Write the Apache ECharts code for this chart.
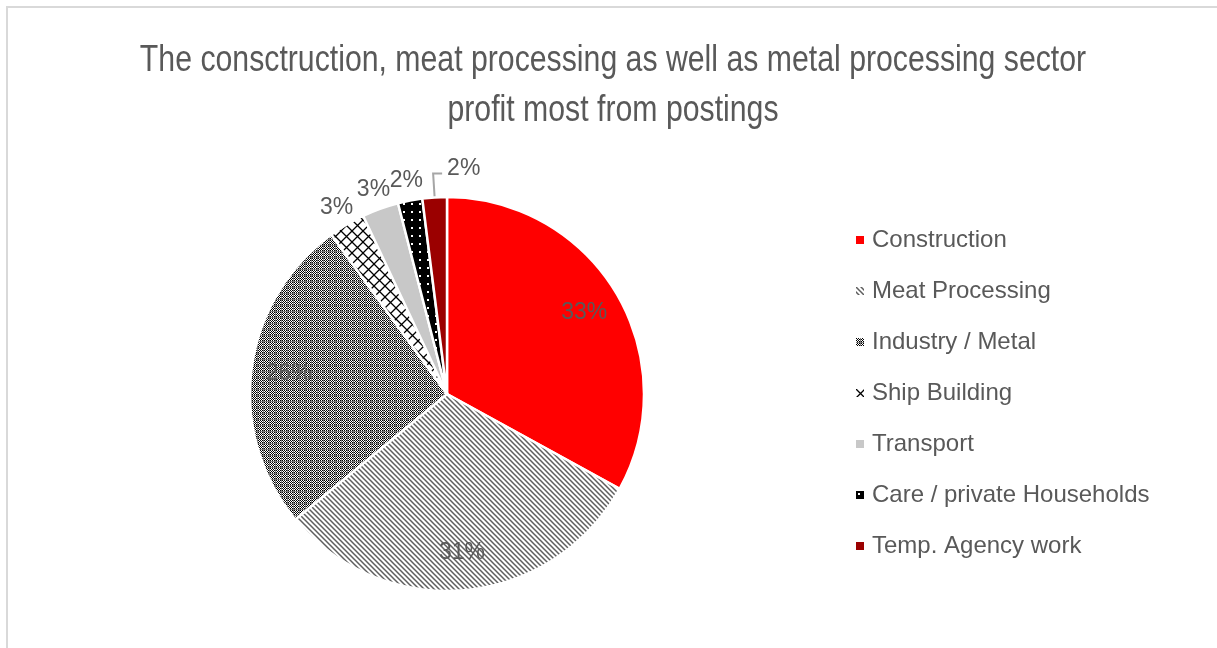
<!DOCTYPE html>
<html>
<head>
<meta charset="utf-8">
<script src="https://cdn.jsdelivr.net/npm/echarts@6/dist/echarts.min.js"></script>
<style>
  html, body { margin: 0; padding: 0; background: #fff; }
  #chart { width: 1217px; height: 648px; }
</style>
</head>
<body>
<div id="chart"></div>
<script>
var sectors = ['Construction', 'Meat Processing', 'Industry / Metal', 'Ship Building',
               'Transport', 'Care / private Households', 'Temp. Agency work'];
var shares = [33, 31, 26, 3, 3, 2, 2];
var titleLines = ['The consctruction, meat processing as well as metal processing sector',
                  'profit most from postings'];

var FONT = 'Liberation Sans, Arial, sans-serif';
var R = 197;

// little canvas tiles for the hatch fills
function tile(w, h, draw) {
    var c = document.createElement('canvas');
    c.width = w; c.height = h;
    draw(c.getContext('2d'));
    return { image: c, repeat: 'repeat' };
}

var stripes = tile(5, 5, function (ctx) {
    ctx.fillStyle = '#fff'; ctx.fillRect(0, 0, 5, 5);
    ctx.strokeStyle = '#5e5e5e'; ctx.lineWidth = 1.5;
    ctx.beginPath();
    ctx.moveTo(0, 0); ctx.lineTo(5, 5);
    ctx.moveTo(-1, 4); ctx.lineTo(1, 6);
    ctx.moveTo(4, -1); ctx.lineTo(6, 1);
    ctx.stroke();
});
var checker = tile(6, 6, function (ctx) {
    ctx.fillStyle = '#fff'; ctx.fillRect(0, 0, 6, 6);
    ctx.fillStyle = '#000';
    for (var x = 0; x < 5; x++) {
        for (var y = 0; y < 5; y++) {
            if ((x + y) % 2 == 0) ctx.fillRect(x, y, 1, 1);
        }
    }
    ctx.fillStyle = '#7a7a7a';
    ctx.fillRect(5, 0, 1, 6); ctx.fillRect(0, 5, 6, 1);
});
var grid = tile(11, 11, function (ctx) {
    ctx.fillStyle = '#fff'; ctx.fillRect(0, 0, 11, 11);
    ctx.strokeStyle = '#000'; ctx.lineWidth = 1.3;
    ctx.beginPath();
    ctx.moveTo(0, 0); ctx.lineTo(11, 11);
    ctx.moveTo(11, 0); ctx.lineTo(0, 11);
    ctx.stroke();
});
var dots = tile(8, 8, function (ctx) {
    ctx.fillStyle = '#000'; ctx.fillRect(0, 0, 8, 8);
    ctx.fillStyle = '#fff'; ctx.fillRect(3, 3, 2, 2);
});

var fills = ['#ff0000', stripes, checker, grid, '#c8c8c8', dots, '#9b0000'];

var pieData = [], innerLabels = [], outerLabels = [];
for (var i = 0; i < sectors.length; i++) {
    var big = shares[i] > 10;
    pieData.push({
        name: sectors[i],
        value: shares[i],
        itemStyle: { color: fills[i] },
        label: { show: i == 6 },
        labelLine: { show: i == 6 }
    });
    innerLabels.push({ name: sectors[i], value: shares[i], label: { show: big } });
    outerLabels.push({ name: sectors[i], value: shares[i], label: { show: !big && i != 6 } });
}

function labelRing(radius, data) {
    return {
        type: 'pie',
        center: [447, 394],
        radius: radius,
        startAngle: 90,
        clockwise: true,
        silent: true,
        legendHoverLink: false,
        avoidLabelOverlap: false,
        itemStyle: { color: 'rgba(0,0,0,0)', borderWidth: 0 },
        label: {
            position: 'inside',
            formatter: '{d}%',
            fontFamily: FONT,
            fontSize: 23,
            color: '#595959'
        },
        labelLine: { show: false },
        labelLayout: { hideOverlap: false },
        emphasis: { disabled: true },
        data: data
    };
}

var option = {
    animation: false,
    backgroundColor: '#fff',
    graphic: [{
        type: 'rect',
        silent: true,
        shape: { x: 7, y: 7, width: 1300, height: 700 },
        style: { fill: 'none', stroke: '#d9d9d9', lineWidth: 2 }
    }, {
        // title squeezed to match the narrow face of the original
        type: 'text',
        silent: true,
        x: 613,
        y: 36,
        scaleX: 0.84,
        style: {
            text: titleLines.join('\n'),
            font: '36px ' + FONT,
            lineHeight: 50,
            align: 'center',
            verticalAlign: 'top',
            fill: '#595959'
        }
    }],
    legend: {
        orient: 'vertical',
        left: 849,
        top: 220,
        itemWidth: 10,
        itemHeight: 10,
        itemGap: 21,
        icon: 'rect',
        data: sectors,
        textStyle: {
            fontFamily: FONT,
            fontSize: 24,
            lineHeight: 30,
            color: '#595959',
            padding: [0, 0, 0, 2]
        }
    },
    series: [
        {
            type: 'pie',
            center: [447, 394],
            radius: [0, R],
            startAngle: 90,
            clockwise: true,
            avoidLabelOverlap: false,
            itemStyle: { borderColor: '#fff', borderWidth: 2.5 },
            label: {
                position: 'outside',
                formatter: '{d}%',
                fontFamily: FONT,
                fontSize: 23,
                color: '#595959'
            },
            labelLine: {
                length: 24,
                length2: 10,
                lineStyle: { color: '#a6a6a6', width: 2 }
            },
            // turn the leader line's elbow to the right, as in the original
            labelLayout: function (params) {
                var pts = params.labelLinePoints;
                if (!pts) return {};
                var a = pts[0], b = pts[1];
                var c = [b[0] + 9, b[1]];
                return {
                    x: c[0] + 5,
                    y: c[1] - 5,
                    align: 'left',
                    verticalAlign: 'middle',
                    labelLinePoints: [a, b, c]
                };
            },
            emphasis: { disabled: true },
            data: pieData
        },
        labelRing([112, R + 4], innerLabels),
        labelRing([R - 3, R + 37], outerLabels)
    ]
};

var chart = echarts.init(document.getElementById('chart'));
chart.setOption(option);
</script>
</body>
</html>
